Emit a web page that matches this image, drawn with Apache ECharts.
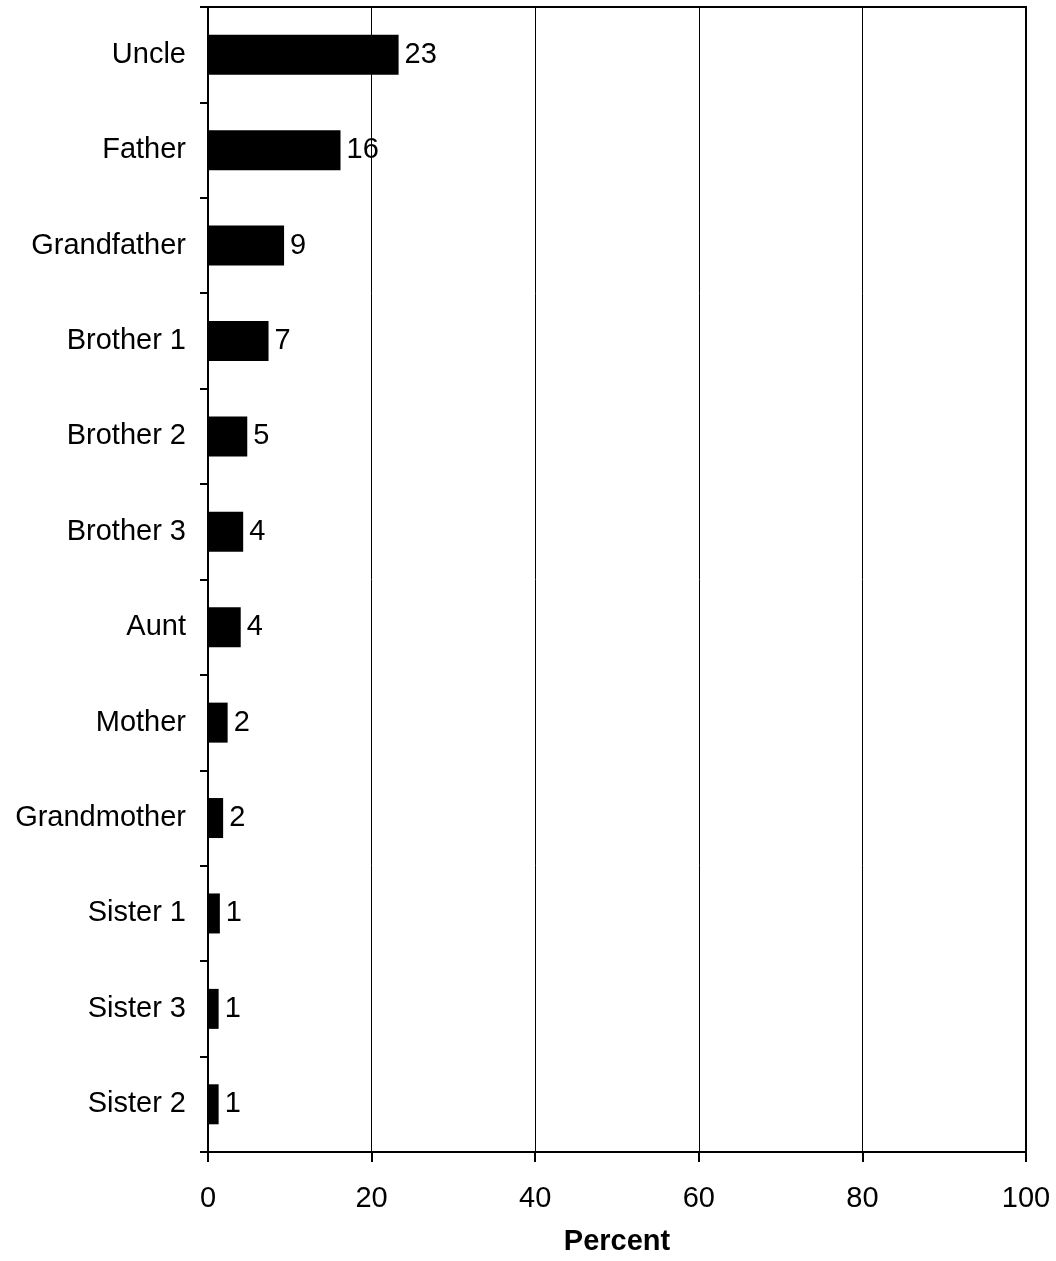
<!DOCTYPE html>
<html>
<head>
<meta charset="utf-8">
<script src="https://cdn.jsdelivr.net/npm/echarts@6/dist/echarts.min.js"></script>
<style>
html,body{margin:0;padding:0;background:#fff;}
#chart{width:1056px;height:1261px;}
</style>
</head>
<body>
<div id="chart"></div>
<script>
const categories = ["Uncle","Father","Grandfather","Brother 1","Brother 2","Brother 3","Aunt","Mother","Grandmother","Sister 1","Sister 3","Sister 2"];
const values = [23.3, 16.2, 9.3, 7.4, 4.8, 4.3, 4.0, 2.4, 1.85, 1.45, 1.3, 1.3];
const xTicks = [0, 20, 40, 60, 80, 100];
const xTitle = "Percent";

const FONT = "'Liberation Sans', Arial, sans-serif";
const FS = 29;
const chart = echarts.init(document.getElementById('chart'), null, {renderer:'canvas'});
chart.setOption({
  animation: false,
  backgroundColor: '#fff',
  grid: {left: 208, right: 30, top: 7, bottom: 109, show: true, borderColor: '#000', borderWidth: 2, backgroundColor: 'transparent'},
  xAxis: {
    type: 'value', min: xTicks[0], max: xTicks[xTicks.length-1], interval: 20,
    axisLine: {show: true, lineStyle: {color: '#000', width: 2}},
    axisTick: {show: true, length: 10, lineStyle: {color: '#000', width: 2}},
    splitLine: {show: true, lineStyle: {color: '#000', width: 1}},
    axisLabel: {color: '#000', fontFamily: FONT, fontSize: FS, margin: 32},
    name: xTitle, nameLocation: 'middle', nameGap: 75,
    nameTextStyle: {color: '#000', fontFamily: FONT, fontSize: FS, fontWeight: 'bold'}
  },
  yAxis: {
    type: 'category', data: categories, inverse: true,
    axisLine: {show: true, lineStyle: {color: '#000', width: 2}},
    axisTick: {show: true, length: 8, lineStyle: {color: '#000', width: 2}},
    axisLabel: {color: '#000', fontFamily: FONT, fontSize: FS, margin: 22, padding: [12, 0, 0, 0]},
    splitLine: {show: false}
  },
  series: [{
    type: 'bar', data: values, barWidth: 40,
    itemStyle: {color: '#000'},
    label: {show: true, position: 'right', distance: 6, color: '#000', fontFamily: FONT, fontSize: FS,
      padding: [12, 0, 0, 0],
      formatter: p => Math.round(p.value)}
  }]
});
</script>
</body>
</html>
